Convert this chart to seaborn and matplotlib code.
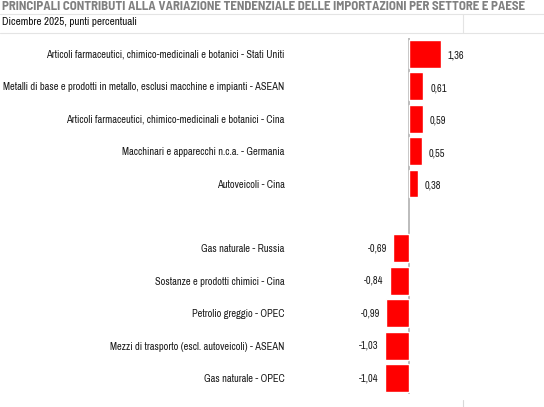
import pandas as pd
import seaborn as sns
import matplotlib.pyplot as plt
from matplotlib.lines import Line2D

categorie = [
    'Articoli farmaceutici, chimico-medicinali e botanici - Stati Uniti',
    'Metalli di base e prodotti in metallo, esclusi macchine e impianti - ASEAN',
    'Articoli farmaceutici, chimico-medicinali e botanici - Cina',
    'Macchinari e apparecchi n.c.a. - Germania',
    'Autoveicoli - Cina',
    ' ',
    'Gas naturale - Russia',
    'Sostanze e prodotti chimici - Cina',
    'Petrolio greggio - OPEC',
    'Mezzi di trasporto (escl. autoveicoli) - ASEAN',
    'Gas naturale - OPEC',
]
valori = [1.36, 0.61, 0.59, 0.55, 0.38, None, -0.69, -0.84, -0.99, -1.03, -1.04]
etichette = ['1,36', '0,61', '0,59', '0,55', '0,38', '', '-0,69', '-0,84', '-0,99', '-1,03', '-1,04']

titolo = 'PRINCIPALI CONTRIBUTI ALLA VARIAZIONE TENDENZIALE DELLE IMPORTAZIONI PER SETTORE E PAESE'
sottotitolo = 'Dicembre 2025, punti percentuali'

df = pd.DataFrame({'categoria': categorie, 'valore': valori}).dropna()

sns.set_theme(style="white")
plt.rcParams['font.family'] = ['Archivo Narrow', 'Liberation Sans', 'DejaVu Sans']

fig = plt.figure(figsize=(5.44, 4.07), dpi=100)
ax = fig.add_axes([0.5515, 0.0314, 0.4044, 0.876])

sns.barplot(data=df, x='valore', y='categoria', order=categorie, color='#FF0000',
            saturation=1, width=0.86, ax=ax)
ax.axvline(0, color='#b0b0b0', lw=1.2, zorder=0)
ax.set_xlim(-4.68, 4.76)
ax.set_ylim(10.5, -0.5)
ax.set_xlabel('')
ax.set_ylabel('')
ax.set_xticks([])
ax.tick_params(axis='y', length=0, pad=11, labelsize=7.5, labelcolor='#1a1a1a')
for s in ax.spines.values():
    s.set_visible(False)

for i, (v, t) in enumerate(zip(valori, etichette)):
    if v is None:
        continue
    if v >= 0:
        ax.annotate(t, (v, i), xytext=(5, -1.5), textcoords='offset points',
                    ha='left', va='center', fontsize=7.5, color='#1a1a1a')
    else:
        ax.annotate(t, (v, i), xytext=(-4.5, 0), textcoords='offset points',
                    ha='right', va='center', fontsize=7.5, color='#1a1a1a')

# intestazione
fig.text(2 / 544, 1 - 7 / 407, titolo, ha='left', va='center', fontsize=9.3,
         fontweight='bold', color='#808080',
         family=['Barlow Semi Condensed', 'Archivo Narrow', 'DejaVu Sans'])
fig.text(2 / 544, 1 - 22 / 407, sottotitolo, ha='left', va='center', fontsize=8,
         color='#111111')
for yy in [14, 33]:
    fig.add_artist(Line2D([0, 1], [1 - yy / 407] * 2, color='#e4e4e4', lw=0.8))
fig.add_artist(Line2D([463 / 544] * 2, [1 - 14 / 407, 1 - 33 / 407], color='#e4e4e4', lw=0.8))
fig.add_artist(Line2D([463 / 544] * 2, [0, 7 / 407], color='#d8d8d8', lw=0.8))

plt.savefig('out.png', dpi=100)
